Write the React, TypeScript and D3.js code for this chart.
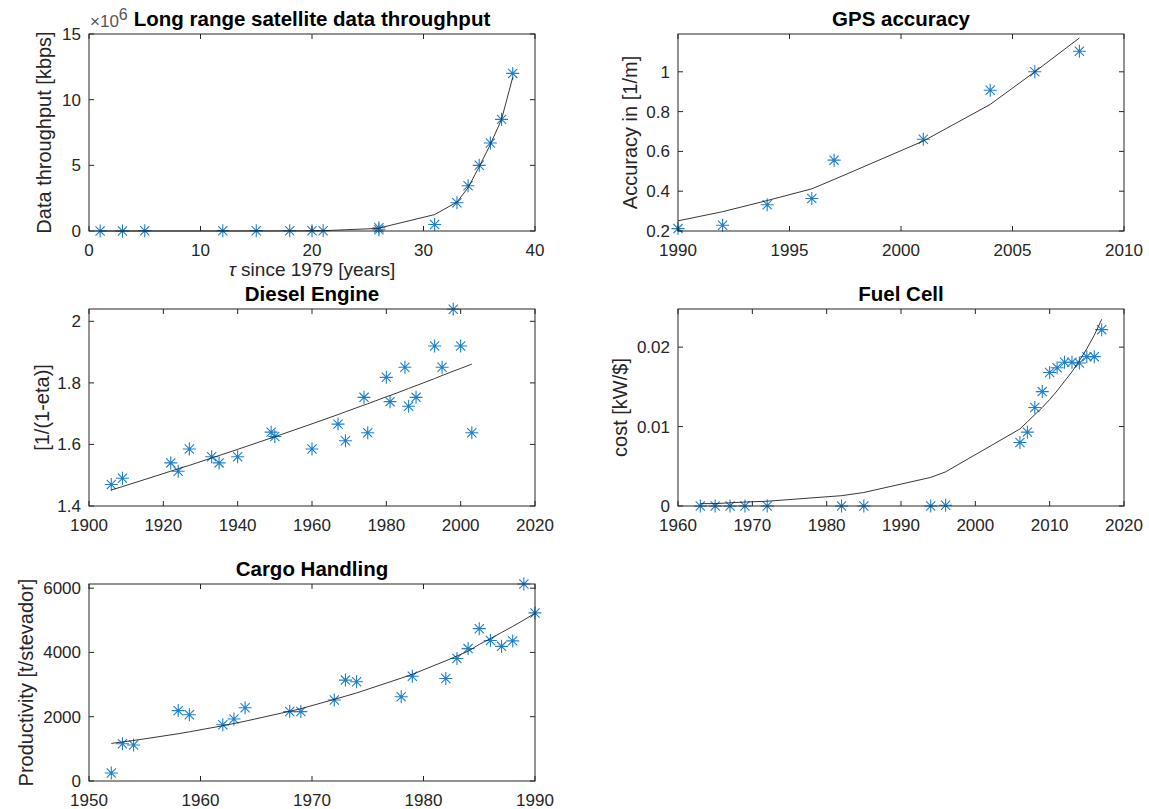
import React from "react";
import * as d3 from "d3";

// Long range satellite data throughput
const satTau = [1, 3, 5, 12, 15, 18, 20, 21, 26, 26, 31, 33, 34, 35, 36, 37, 38];
const satKbps = [0, 0, 0.02e6, 0.02e6, 0.02e6, 0.02e6, 0.02e6, 0.02e6, 0.1e6, 0.25e6, 0.5e6, 2.15e6, 3.45e6, 5.0e6, 6.7e6, 8.5e6, 12.0e6];
const satFit = [0, 0, 0, 0.001e6, 0.003e6, 0.008e6, 0.015e6, 0.022e6, 0.2e6, 0.22e6, 1.25e6, 2.2e6, 3.3e6, 4.9e6, 6.6e6, 8.5e6, 11.7e6];
const satXTicks = [0, 10, 20, 30, 40];
const satYTicks = [0, 5e6, 10e6, 15e6];
const satYTickLabels = ["0", "5", "10", "15"];

// GPS accuracy
const gpsYears = [1990, 1992, 1994, 1996, 1997, 2001, 2004, 2006, 2008];
const gpsAcc = [0.212, 0.229, 0.332, 0.363, 0.556, 0.661, 0.907, 1.0, 1.103];
const gpsFit = [0.251, 0.297, 0.353, 0.412, 0.459, 0.652, 0.836, 1.0, 1.17];
const gpsXTicks = [1990, 1995, 2000, 2005, 2010];
const gpsYTicks = [0.2, 0.4, 0.6, 0.8, 1];
const gpsYTickLabels = ["0.2", "0.4", "0.6", "0.8", "1"];

// Diesel Engine
const dieselYears = [1906, 1909, 1922, 1924, 1927, 1933, 1935, 1940, 1949, 1950, 1960, 1967, 1969, 1974, 1975, 1980, 1981, 1985, 1986, 1988, 1993, 1995, 1998, 2000, 2003];
const dieselEta = [1.47, 1.49, 1.54, 1.513, 1.585, 1.56, 1.54, 1.56, 1.64, 1.626, 1.585, 1.666, 1.612, 1.753, 1.638, 1.818, 1.739, 1.851, 1.724, 1.753, 1.92, 1.851, 2.039, 1.92, 1.638];
const dieselFit = [1.452, 1.463, 1.513, 1.521, 1.532, 1.556, 1.564, 1.584, 1.621, 1.625, 1.667, 1.697, 1.706, 1.728, 1.732, 1.755, 1.759, 1.777, 1.782, 1.791, 1.814, 1.824, 1.838, 1.847, 1.861];
const dieselXTicks = [1900, 1920, 1940, 1960, 1980, 2000, 2020];
const dieselYTicks = [1.4, 1.6, 1.8, 2];
const dieselYTickLabels = ["1.4", "1.6", "1.8", "2"];

// Fuel Cell
const fuelYears = [1963, 1965, 1967, 1969, 1972, 1982, 1985, 1994, 1996, 2006, 2007, 2008, 2009, 2010, 2011, 2012, 2013, 2014, 2015, 2016, 2017];
const fuelCost = [0, 0, 0, 0, 0, 0, 0, 0, 0.0001, 0.008, 0.0093, 0.0124, 0.0144, 0.0168, 0.0174, 0.0181, 0.0181, 0.018, 0.0188, 0.0188, 0.0222];
const fuelFit = [0.0003, 0.0003, 0.0004, 0.0005, 0.0006, 0.0013, 0.0017, 0.0036, 0.0043, 0.0097, 0.0106, 0.0115, 0.0124, 0.0134, 0.0145, 0.0157, 0.0169, 0.0183, 0.0198, 0.0215, 0.0235];
const fuelXTicks = [1960, 1970, 1980, 1990, 2000, 2010, 2020];
const fuelYTicks = [0, 0.01, 0.02];
const fuelYTickLabels = ["0", "0.01", "0.02"];

// Cargo Handling
const cargoYears = [1952, 1953, 1954, 1958, 1959, 1962, 1963, 1964, 1968, 1969, 1972, 1973, 1974, 1978, 1979, 1982, 1983, 1984, 1985, 1986, 1987, 1988, 1989, 1990];
const cargoProd = [250, 1160, 1120, 2190, 2060, 1750, 1930, 2280, 2160, 2160, 2520, 3140, 3090, 2620, 3260, 3190, 3810, 4120, 4740, 4370, 4190, 4360, 6130, 5230];
const cargoFit = [1170, 1215, 1260, 1470, 1530, 1720, 1790, 1860, 2170, 2250, 2540, 2640, 2740, 3200, 3320, 3740, 3890, 4040, 4250, 4430, 4620, 4810, 5010, 5220];
const cargoXTicks = [1950, 1960, 1970, 1980, 1990];
const cargoYTicks = [0, 2000, 4000, 6000];
const cargoYTickLabels = ["0", "2000", "4000", "6000"];

const FONT = "'Liberation Sans', Arial, Helvetica, sans-serif";
const AX = "#262626";
const BLUE = "#1f80cc";
const W = 446;
const H = 197;
const TICK = 5;
const TICK_FS = 17;
const LABEL_FS = 20;
const TITLE_FS = 20.5;
const STAR = "M-6.5,0H6.5M0,-6.5V6.5M-4.6,-4.6L4.6,4.6M-4.6,4.6L4.6,-4.6";

type PanelProps = {
  left: number; top: number;
  xDomain: [number, number]; yDomain: [number, number];
  xTicks: number[]; yTicks: number[]; yTickLabels: string[];
  title: string; ylabel: string; ylabelGap: number;
  xs: number[]; ys: number[]; fit: number[];
  children?: React.ReactNode;
};

function Panel(p: PanelProps) {
  const x = d3.scaleLinear().domain(p.xDomain).range([p.left, p.left + W]);
  const y = d3.scaleLinear().domain(p.yDomain).range([p.top + H, p.top]);
  const line = d3.line<number>().x((_, i) => x(p.xs[i])).y(d => y(d));
  const bottom = p.top + H, right = p.left + W;

  return (
    <g>
      {/* data */}
      {p.xs.map((xv, i) => (
        <path key={i} d={STAR} transform={`translate(${x(xv)},${y(p.ys[i])})`}
          stroke={BLUE} strokeWidth={1.1} fill="none" />
      ))}
      <path d={line(p.fit) || ""} fill="none" stroke="#222" strokeWidth={0.9} />

      {/* box + ticks */}
      <rect x={p.left} y={p.top} width={W} height={H} fill="none" stroke={AX} strokeWidth={1} />
      {p.xTicks.map(t => (
        <g key={"x" + t}>
          <line x1={x(t)} x2={x(t)} y1={bottom} y2={bottom - TICK} stroke={AX} />
          <line x1={x(t)} x2={x(t)} y1={p.top} y2={p.top + TICK} stroke={AX} />
          <text x={x(t)} y={bottom + 25} textAnchor="middle" fontSize={TICK_FS} fill={AX}>{t}</text>
        </g>
      ))}
      {p.yTicks.map((t, i) => (
        <g key={"y" + t}>
          <line x1={p.left} x2={p.left + TICK} y1={y(t)} y2={y(t)} stroke={AX} />
          <line x1={right} x2={right - TICK} y1={y(t)} y2={y(t)} stroke={AX} />
          <text x={p.left - 8} y={y(t) + 6} textAnchor="end" fontSize={TICK_FS} fill={AX}>{p.yTickLabels[i]}</text>
        </g>
      ))}

      {/* labels */}
      <text x={(p.left + right) / 2} y={p.top - 8} textAnchor="middle" fontSize={TITLE_FS} fontWeight="bold" fill="#000">{p.title}</text>
      <text transform={`translate(${p.left - p.ylabelGap},${p.top + H / 2}) rotate(-90)`}
        textAnchor="middle" fontSize={LABEL_FS} fill={AX}>{p.ylabel}</text>
      {p.children}
    </g>
  );
}

export default function App() {
  const L1 = 89, L2 = 678;
  const T1 = 34, T2 = 309, T3 = 584;
  return (
    <svg width={1149} height={809} style={{ position: "absolute", left: 0, top: 0, background: "#fff" }}
      fontFamily={FONT}>
      <rect width={1149} height={809} fill="#fff" />
      <Panel left={L1} top={T1} xDomain={[0, 40]} yDomain={[0, 15e6]}
        xTicks={satXTicks} yTicks={satYTicks} yTickLabels={satYTickLabels}
        title="Long range satellite data throughput" ylabel="Data throughput [kbps]" ylabelGap={38}
        xs={satTau} ys={satKbps} fit={satFit}>
        <text x={L1 + 1} y={T1 - 7} fontSize={17} fill="#555">
          ×10<tspan dy={-7} fontSize={16}>6</tspan>
        </text>
        <text x={L1 + W / 2} y={T1 + H + 45} textAnchor="middle" fontSize={19} fill={AX}>
          <tspan fontStyle="italic">τ</tspan> since 1979 [years]
        </text>
      </Panel>
      <Panel left={L2} top={T1} xDomain={[1990, 2010]} yDomain={[0.2, 1.19]}
        xTicks={gpsXTicks} yTicks={gpsYTicks} yTickLabels={gpsYTickLabels}
        title="GPS accuracy" ylabel="Accuracy in [1/m]" ylabelGap={41}
        xs={gpsYears} ys={gpsAcc} fit={gpsFit} />
      <Panel left={L1} top={T2} xDomain={[1900, 2020]} yDomain={[1.4, 2.04]}
        xTicks={dieselXTicks} yTicks={dieselYTicks} yTickLabels={dieselYTickLabels}
        title="Diesel Engine" ylabel="[1/(1-eta)]" ylabelGap={40}
        xs={dieselYears} ys={dieselEta} fit={dieselFit} />
      <Panel left={L2} top={T2} xDomain={[1960, 2020]} yDomain={[0, 0.0248]}
        xTicks={fuelXTicks} yTicks={fuelYTicks} yTickLabels={fuelYTickLabels}
        title="Fuel Cell" ylabel="cost [kW/$]" ylabelGap={51}
        xs={fuelYears} ys={fuelCost} fit={fuelFit} />
      <Panel left={L1} top={T3} xDomain={[1950, 1990]} yDomain={[0, 6130]}
        xTicks={cargoXTicks} yTicks={cargoYTicks} yTickLabels={cargoYTickLabels}
        title="Cargo Handling" ylabel="Productivity [t/stevador]" ylabelGap={56}
        xs={cargoYears} ys={cargoProd} fit={cargoFit} />
    </svg>
  );
}
